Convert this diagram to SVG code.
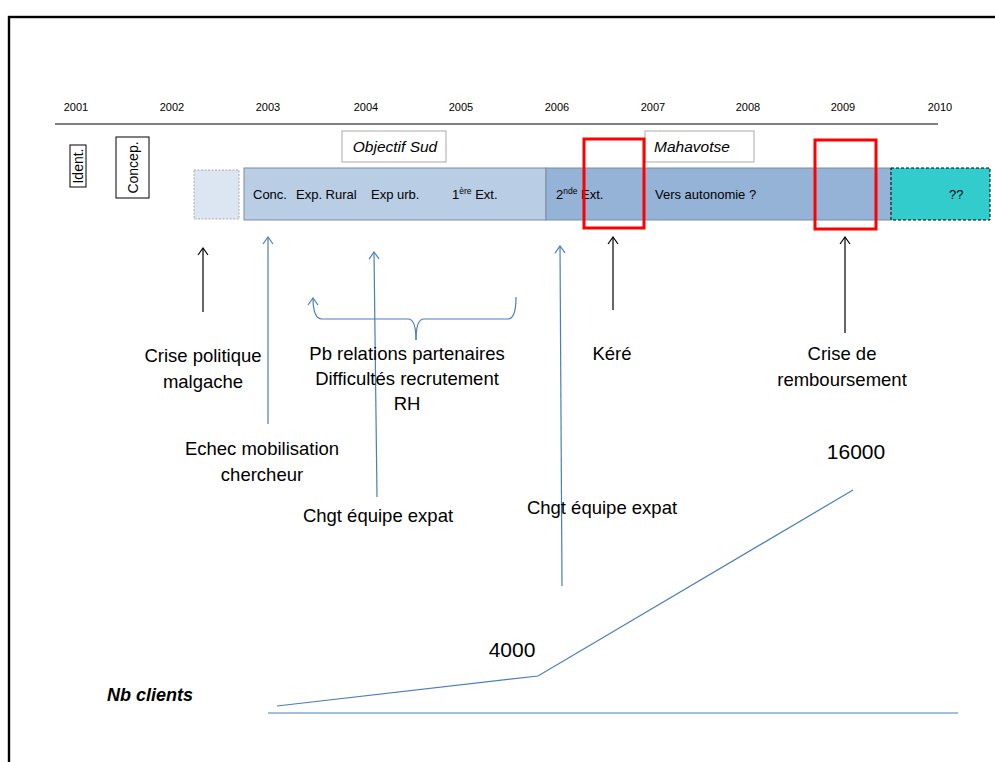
<svg xmlns="http://www.w3.org/2000/svg" width="995" height="762" viewBox="0 0 995 762">
<style>
text{font-family:"Liberation Sans",Arial,sans-serif;fill:#000}
.yr{font-size:11px;text-anchor:middle}
.lbl{font-size:18.5px;text-anchor:middle}
.bar{font-size:13px}
.it{font-size:15.5px;font-style:italic}
.num{font-size:21px;text-anchor:middle}
.blk{stroke:#000;stroke-width:1.2;fill:none}
.blu{stroke:#4a7ebb;stroke-width:1.2;fill:none}
</style>
<defs>
<marker id="ak" markerUnits="userSpaceOnUse" markerWidth="14" markerHeight="14" refX="0" refY="0" viewBox="-8 -7 10 14" orient="auto" overflow="visible">
<path d="M-7,-5 L0,0 L-7,5" fill="none" stroke="#000" stroke-width="1.2"/>
</marker>
<marker id="ab" markerUnits="userSpaceOnUse" markerWidth="14" markerHeight="14" refX="0" refY="0" viewBox="-8 -7 10 14" orient="auto" overflow="visible">
<path d="M-7,-5 L0,0 L-7,5" fill="none" stroke="#4a7ebb" stroke-width="1.2"/>
</marker>
</defs>
<rect x="0" y="0" width="995" height="762" fill="#fff"/>
<rect id="frame" x="9" y="17" width="1010" height="800" fill="none" stroke="#000" stroke-width="2.4"/>

<g id="years">
<text class="yr" x="76" y="111">2001</text>
<text class="yr" x="172" y="111">2002</text>
<text class="yr" x="268" y="111">2003</text>
<text class="yr" x="366" y="111">2004</text>
<text class="yr" x="461" y="111">2005</text>
<text class="yr" x="557" y="111">2006</text>
<text class="yr" x="653" y="111">2007</text>
<text class="yr" x="748" y="111">2008</text>
<text class="yr" x="843" y="111">2009</text>
<text class="yr" x="940" y="111">2010</text>
</g>
<line id="axis" x1="55" y1="124" x2="938" y2="124" stroke="#000" stroke-width="1.2"/>

<g id="ident">
<rect x="70" y="145" width="16" height="42" fill="#fff" stroke="#000" stroke-width="1"/>
<text transform="translate(83,166) rotate(-90)" font-size="14" text-anchor="middle">Ident.</text>
</g>
<g id="concep">
<rect x="116" y="137" width="33" height="61" fill="#fff" stroke="#000" stroke-width="1"/>
<text transform="translate(137.5,167.5) rotate(-90)" font-size="14" text-anchor="middle">Concep.</text>
</g>
<g id="pre">
<rect x="194" y="170" width="45" height="49" fill="#dce6f2" stroke="#999" stroke-width="0.8" stroke-dasharray="2,1.5"/>
</g>
<g id="bar1">
<rect x="244" y="168" width="302" height="52" fill="#b9cde5" stroke="#7b8ca4" stroke-width="1"/>
<text class="bar" x="253" y="199">Conc.</text>
<text class="bar" x="296" y="199">Exp. Rural</text>
<text class="bar" x="371" y="199">Exp urb.</text>
<text class="bar" x="452" y="199">1<tspan font-size="8.5" dy="-5">ère</tspan><tspan dy="5"> Ext.</tspan></text>
</g>
<g id="bar2">
<rect x="546" y="168" width="345" height="52" fill="#95b3d7" stroke="#7b8ca4" stroke-width="1"/>
<text class="bar" x="556" y="199">2<tspan font-size="8.5" dy="-5">nde</tspan><tspan dy="5"> Ext.</tspan></text>
<text class="bar" x="655" y="199" font-size="14">Vers autonomie ?</text>
</g>
<g id="future">
<rect x="891" y="168" width="99" height="52" fill="#33cccc" stroke="#000" stroke-width="1" stroke-dasharray="3,2"/>
<text class="bar" x="949" y="199">??</text>
</g>
<g id="objsud">
<rect x="342" y="131" width="104" height="31" fill="#fff" stroke="#aaa" stroke-width="1"/>
<text class="it" x="395" y="152" text-anchor="middle">Objectif Sud</text>
</g>
<g id="mahavotse">
<rect x="645" y="131" width="109" height="31" fill="#fff" stroke="#aaa" stroke-width="1"/>
<text class="it" x="654" y="152">Mahavotse</text>
</g>
<g id="red1"><rect x="584" y="139" width="60" height="89" fill="none" stroke="#ff0000" stroke-width="3"/></g>
<g id="red2"><rect x="815" y="140" width="61" height="89" fill="none" stroke="#ff0000" stroke-width="3"/></g>

<g id="connectors">
<line class="blk" x1="203" y1="312" x2="203" y2="248" marker-end="url(#ak)"/>
<line class="blu" x1="268" y1="424" x2="268" y2="237" marker-end="url(#ab)"/>
<line class="blu" x1="377" y1="497" x2="374" y2="252" marker-end="url(#ab)"/>
<line class="blu" x1="562" y1="586" x2="560" y2="246" marker-end="url(#ab)"/>
<line class="blk" x1="613" y1="310" x2="613" y2="237" marker-end="url(#ak)"/>
<line class="blk" x1="845" y1="333" x2="845" y2="237" marker-end="url(#ak)"/>
<path class="blu" d="M416,340 Q416,319 408,319 L322,319 Q313,319 313,298" marker-end="url(#ab)"/>
<path class="blu" d="M416,340 Q416,319 424,319 L508,319 Q516,319 516,297"/>
<polyline class="blu" points="277,706 538,676 853,490"/>
<line x1="268" y1="713" x2="958" y2="713" stroke="#4a7ebb" stroke-width="1.2"/>
</g>

<g id="labels">
<text class="lbl" x="203" y="362">Crise politique</text>
<text class="lbl" x="203" y="388">malgache</text>
<text class="lbl" x="407" y="360">Pb relations partenaires</text>
<text class="lbl" x="407" y="385">Difficultés recrutement</text>
<text class="lbl" x="407" y="410">RH</text>
<text class="lbl" x="612" y="360">Kéré</text>
<text class="lbl" x="842" y="360">Crise de</text>
<text class="lbl" x="842" y="386">remboursement</text>
<text class="lbl" x="262" y="455">Echec mobilisation</text>
<text class="lbl" x="262" y="481">chercheur</text>
<text class="lbl" x="378" y="522">Chgt équipe expat</text>
<text class="lbl" x="602" y="514">Chgt équipe expat</text>
<text class="num" x="856" y="459">16000</text>
<text class="num" x="512" y="657">4000</text>
<text x="107" y="701" font-size="18" font-style="italic" font-weight="bold">Nb clients</text>
</g>
</svg>
